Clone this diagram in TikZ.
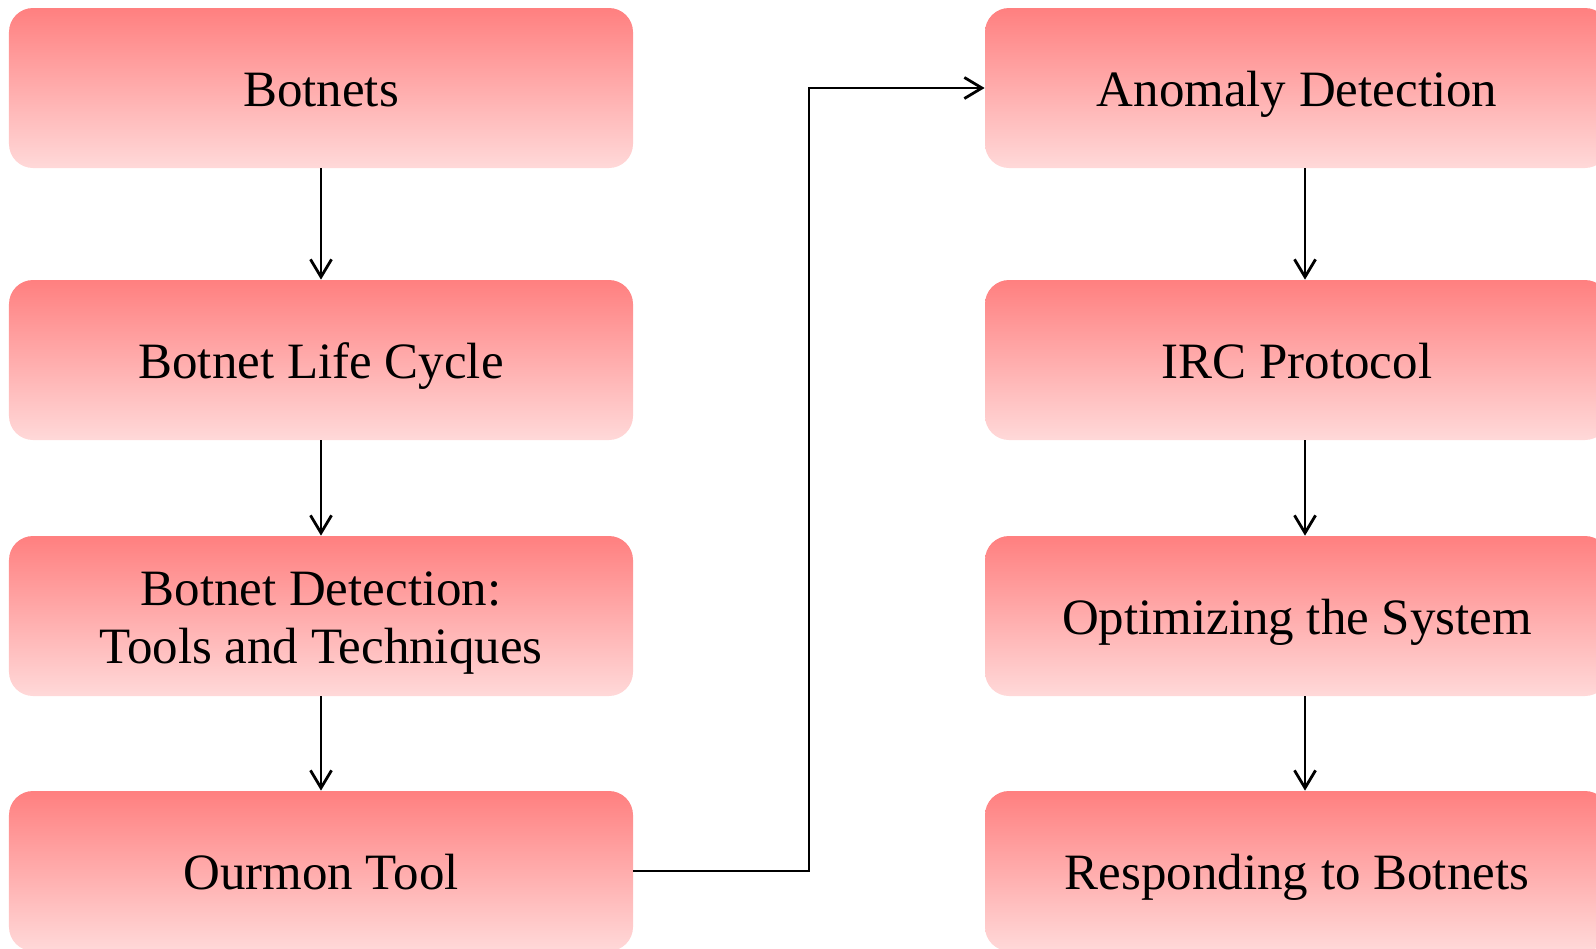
\documentclass[tikz,border=0pt]{standalone}
\usepackage{fontspec}
\setmainfont{Liberation Serif}
\usetikzlibrary{calc,arrows.meta}

\tikzset{
	stage/.style={rounded corners=0.48cm, minimum width=12.48cm, minimum height=3.2cm,
		inner sep=0pt, top color=red!50, bottom color=red!15, align=center,
		text height=0.75cm, text depth=0cm,
		font=\fontsize{29}{33}\selectfont},
	flow/.style={line width=1.6pt, -{Straight Barb[length=10pt,width=12pt,line width=1.6pt]}}
}

\begin{document}
\begin{tikzpicture}
		%%%%% START %%%%%
		
		\clip (0, 0) rectangle (31.92, -18.96);
		
		\node[stage] (botnets) at (6.42, -1.76) {Botnets};
		\node[stage] (lifecycle) at (6.42, -7.2) {Botnet Life Cycle};
		\node[stage, text height=1.91cm] (detection) at (6.42, -12.32) {Botnet Detection:\\Tools and Techniques};
		\node[stage] (ourmon) at (6.42, -17.42) {Ourmon Tool};
		
		\node[stage] (anomaly) at (25.94, -1.76) {Anomaly Detection};
		\node[stage] (irc) at (25.94, -7.2) {IRC Protocol};
		\node[stage] (optimize) at (25.94, -12.32) {Optimizing the System};
		\node[stage] (respond) at (25.94, -17.42) {Responding to Botnets};
		
		\draw[flow] (botnets) -- (lifecycle);
		\draw[flow] (lifecycle) -- (detection);
		\draw[flow] (detection) -- (ourmon);
		
		\draw[flow] (ourmon.east) -| ($(ourmon.east)!0.5!(anomaly.west)$) |- (anomaly.west);
		
		\draw[flow] ([xshift=0.16cm]anomaly.south) -- ([xshift=0.16cm]irc.north);
		\draw[flow] ([xshift=0.16cm]irc.south) -- ([xshift=0.16cm]optimize.north);
		\draw[flow] ([xshift=0.16cm]optimize.south) -- ([xshift=0.16cm]respond.north);
		
		%%%%% END %%%%%
	\end{tikzpicture}
\end{document}
